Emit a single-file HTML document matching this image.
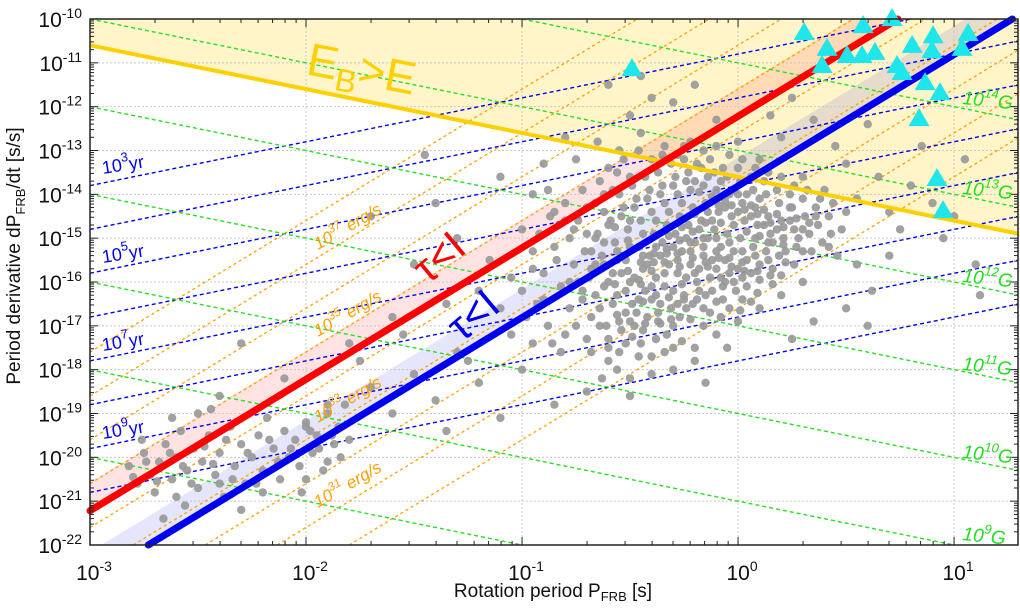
<!DOCTYPE html>
<html><head><meta charset="utf-8"><style>
html,body{margin:0;padding:0;background:#fff;width:1020px;height:610px;overflow:hidden;}
svg{display:block;font-family:"Liberation Sans",sans-serif;}
</style></head><body>
<svg id="chart" width="1020" height="610" viewBox="0 0 1020 610" xmlns="http://www.w3.org/2000/svg">
<defs><clipPath id="plotclip"><rect x="90" y="19" width="928" height="526"/></clipPath></defs>
<g id="bg"></g>
<g id="grid" clip-path="url(#plotclip)"></g>
<g id="dashed" clip-path="url(#plotclip)"></g>
<g id="points" clip-path="url(#plotclip)"></g>
<g id="thick"></g>
<g id="tri"></g>
<g id="axes"></g>
<g id="labels"></g>
</svg>
<script>
// ---- data (log10 values) ----
const xTickExps = [-3, -2, -1, 0, 1];
const yTickExps = [-22, -21, -20, -19, -18, -17, -16, -15, -14, -13, -12, -11, -10];
const bFieldExps = [8, 9, 10, 11, 12, 13, 14];
const ageExps = [3, 4, 5, 6, 7, 8, 9, 10];
const lumExps = [30, 31, 32, 33, 34, 35, 36, 37, 38];
const redLineIntercept = -12.22;   // log Pdot at P=1 s, slope 3
const blueLineIntercept = -13.81;
const yellowLineIntercept = -13.6; // log Pdot at P=1 s, slope -1
const bandWidth = 0.65;
const frbLogP = [-0.491,0.306,0.412,0.389,0.505,0.574,0.634,0.579,0.713,0.806,0.736,0.759,0.903,0.898,0.866,0.935,1.065,1.037,0.838,0.921,0.949];
const frbLogPdot = [-11.12,-10.30,-10.66,-11.05,-10.82,-10.82,-10.75,-10.14,-9.98,-10.59,-11.05,-11.21,-10.37,-10.71,-11.44,-11.67,-10.32,-10.66,-12.26,-13.63,-14.36];
const pulsars = [
[-0.71,-15.3],[-0.69,-15.9],[-0.72,-16.4],[-0.68,-16.8],[-0.66,-15.6],
[-0.65,-14.9],[-0.63,-15.4],[-0.62,-16.1],[-0.64,-16.6],[-0.61,-17.0],
[-0.59,-14.6],[-0.57,-15.1],[-0.58,-15.8],[-0.56,-16.3],[-0.55,-16.9],[-0.60,-17.3],
[-0.53,-14.3],[-0.51,-14.8],[-0.52,-15.5],[-0.50,-16.0],[-0.49,-16.5],[-0.54,-17.1],
[-0.47,-14.1],[-0.45,-14.6],[-0.46,-15.2],[-0.44,-15.7],[-0.43,-16.2],[-0.47,-16.7],[-0.45,-17.4],
[-0.41,-13.9],[-0.40,-14.4],[-0.39,-14.9],[-0.41,-15.4],[-0.38,-15.9],[-0.40,-16.4],[-0.37,-16.9],
[-0.35,-13.8],[-0.34,-14.2],[-0.33,-14.7],[-0.35,-15.1],[-0.32,-15.6],[-0.34,-16.1],[-0.31,-16.6],[-0.33,-17.2],
[-0.29,-13.6],[-0.28,-14.0],[-0.27,-14.5],[-0.29,-14.9],[-0.26,-15.3],[-0.28,-15.8],[-0.25,-16.3],[-0.27,-16.8],
[-0.23,-13.5],[-0.22,-13.9],[-0.21,-14.3],[-0.23,-14.7],[-0.20,-15.1],[-0.22,-15.6],[-0.19,-16.0],[-0.21,-16.5],
[-0.17,-13.4],[-0.16,-13.8],[-0.15,-14.2],[-0.17,-14.6],[-0.14,-15.0],[-0.16,-15.4],[-0.13,-15.9],[-0.15,-16.3],
[-0.11,-13.5],[-0.10,-13.9],[-0.09,-14.4],[-0.11,-14.8],[-0.08,-15.2],[-0.10,-15.7],[-0.07,-16.1],
[-0.05,-13.6],[-0.04,-14.0],[-0.03,-14.5],[-0.05,-14.9],[-0.02,-15.3],[-0.04,-15.8],[-0.01,-16.2],
[0.01,-13.7],[0.02,-14.2],[0.03,-14.6],[0.01,-15.0],[0.04,-15.5],[0.02,-15.9],
[0.07,-13.9],[0.08,-14.3],[0.09,-14.7],[0.07,-15.2],[0.10,-15.6],
[0.13,-14.0],[0.14,-14.5],[0.15,-14.9],[0.13,-15.3],[0.16,-15.7],
[0.19,-14.2],[0.20,-14.6],[0.21,-15.0],[0.19,-15.4],
[0.25,-14.3],[0.26,-14.8],[0.27,-15.2],[0.31,-14.5],[0.33,-14.9],[0.30,-15.3],
[0.37,-14.7],[0.39,-15.1],[0.43,-14.9],
[-0.62,-15.1],[-0.56,-15.5],[-0.50,-15.2],[-0.44,-14.9],[-0.38,-14.6],[-0.32,-14.4],[-0.26,-14.2],[-0.20,-13.7],[-0.14,-13.6],[-0.08,-13.7],[-0.02,-13.9],[0.04,-14.0],[0.10,-14.1],
[-0.60,-16.0],[-0.54,-15.8],[-0.48,-15.9],[-0.42,-15.6],[-0.36,-15.4],[-0.30,-15.2],[-0.24,-15.0],[-0.18,-14.8],[-0.12,-14.6],[-0.06,-14.3],[0.00,-14.4],[0.06,-14.5],[0.12,-14.7],[0.18,-14.8],[0.24,-14.6],
[-0.52,-16.7],[-0.46,-16.4],[-0.40,-16.1],[-0.34,-15.8],[-0.28,-15.5],[-0.22,-15.3],[-0.16,-15.2],[-0.10,-15.0],[-0.04,-15.1],[0.02,-15.3],[0.08,-15.0],[0.14,-15.1],[0.22,-15.3],
[-0.48,-17.0],[-0.42,-16.8],[-0.36,-16.5],[-0.30,-16.2],[-0.24,-15.9],[-0.18,-15.7],[-0.12,-15.5],[-0.06,-15.5],[0.00,-15.7],[0.06,-15.8],
[-0.38,-17.3],[-0.30,-17.0],[-0.24,-16.6],[-0.18,-16.2],[-0.12,-16.2],[-0.06,-16.0],[0.02,-16.4],
[-0.62,-14.4],[-0.55,-14.0],[-0.49,-13.8],[-0.43,-13.6],[-0.37,-13.5],[-0.31,-13.3],[-0.25,-13.2],[-0.19,-13.3],[-0.13,-13.2],[-0.07,-13.4],[0.0,-13.4],[0.06,-13.6],[0.12,-13.7],[0.18,-13.9],[0.24,-14.0],[0.30,-14.1],[0.36,-14.3],[0.42,-14.5],
[-0.66,-15.0],[-0.60,-14.7],[-0.54,-14.5],[-0.48,-14.3],[-0.42,-14.1],[-0.36,-14.0],[-0.30,-13.8],[-0.24,-13.7],[-0.18,-13.95],[-0.12,-14.05],[-0.06,-14.15],[0.0,-14.0],[0.06,-14.25],[0.12,-14.35],[0.18,-14.45],[0.24,-14.3],[0.30,-14.8],[0.36,-14.5],[0.42,-15.2],
[-0.74,-16.0],[-0.68,-15.7],[-0.62,-15.6],[-0.56,-15.3],[-0.50,-14.6],[-0.44,-15.4],[-0.38,-15.2],[-0.32,-14.95],[-0.26,-14.75],[-0.20,-14.45],[-0.14,-14.4],[-0.08,-14.65],[-0.02,-14.7],[0.04,-14.85],[0.10,-14.95],[0.16,-15.1],[0.22,-15.55],[0.28,-15.0],[0.34,-15.3],
[-0.78,-16.6],[-0.72,-16.2],[-0.66,-16.3],[-0.58,-16.5],[-0.52,-16.2],[-0.46,-15.95],[-0.40,-15.75],[-0.34,-15.55],[-0.28,-15.35],[-0.22,-15.1],[-0.16,-15.0],[-0.10,-15.3],[-0.04,-15.45],[0.02,-15.55],[0.08,-15.4],[0.14,-15.5],[0.20,-15.85],[0.26,-15.6],
[-0.80,-17.2],[-0.70,-17.3],[-0.64,-17.0],[-0.56,-16.75],[-0.50,-16.9],[-0.44,-16.45],[-0.38,-16.3],[-0.32,-16.35],[-0.26,-16.05],[-0.20,-15.8],[-0.14,-15.65],[-0.08,-15.9],[-0.02,-16.0],[0.04,-16.1],[0.10,-15.95],[0.16,-16.05],
[-0.68,-17.6],[-0.60,-17.5],[-0.52,-17.4],[-0.44,-17.1],[-0.36,-16.95],[-0.28,-16.5],[-0.22,-16.85],[-0.16,-16.6],[-0.10,-16.45],[-0.04,-16.6],[0.06,-16.45],
[-0.56,-18.0],[-0.46,-17.7],[-0.34,-17.6],[-0.26,-17.35],[-0.16,-17.0],[-0.08,-16.8],
[-0.95,-15.3],[-0.92,-14.9],[-0.9,-15.8],[-0.87,-14.5],[-0.84,-15.5],[-0.82,-16.1],[-0.8,-14.2],[-0.78,-15.0],[-0.76,-15.6],[-0.74,-14.6],[-0.72,-13.9],[-0.7,-14.9],[-0.68,-15.3],[-0.66,-14.2],[-0.64,-13.7],[-0.62,-14.0],[-0.6,-13.4],[-0.58,-13.9],[-0.56,-13.5],[-0.53,-13.2],[-0.5,-13.6],[-1.0,-16.2],[-0.98,-16.8],[-0.93,-16.5],[-0.88,-17.0],[-1.05,-15.9],[-1.1,-16.6],[-0.86,-17.4],
[-0.46,-13.0],[-0.4,-13.2],[-0.34,-12.9],[-0.28,-13.1],[-0.22,-12.8],[-0.16,-13.0],[-0.1,-12.9],[-0.04,-13.1],[0.02,-13.2],[0.08,-13.4],[0.14,-13.5],[0.2,-13.6],[0.26,-13.8],[0.32,-13.9],[0.38,-14.1],[0.44,-14.2],[0.5,-14.4],[0.48,-14.8],[0.46,-15.4],
[-0.57,-14.75],[-0.51,-15.05],[-0.45,-15.55],[-0.39,-15.35],[-0.33,-15.25],[-0.27,-15.05],[-0.21,-14.85],[-0.15,-14.65],[-0.09,-14.25],[-0.03,-14.25],[0.03,-14.35],[0.09,-14.45],[0.15,-14.65],[0.21,-14.75],[0.27,-14.55],[0.33,-14.65],
[-0.57,-16.05],[-0.51,-15.75],[-0.45,-16.05],[-0.39,-15.55],[-0.33,-15.35],[-0.27,-15.65],[-0.21,-15.45],[-0.15,-15.55],[-0.09,-15.45],[-0.03,-15.65],[0.03,-15.75],[0.09,-15.75],[0.15,-15.85],[0.21,-15.15],
[-0.55,-17.6],[-0.49,-17.25],[-0.43,-16.95],[-0.37,-16.7],[-0.31,-16.85],[-0.25,-16.4],[-0.19,-16.4],[-0.13,-16.7],[-0.07,-16.4],[0.01,-16.65],[0.09,-16.25],
[-0.63,-18.2],[-0.5,-18.6],[-0.4,-18.1],[-0.3,-17.5],[-0.2,-17.8],[-0.05,-17.5],
[-0.75,-13.2],[-0.65,-12.8],[-0.55,-13.0],[-0.45,-12.6],[-0.35,-13.1],[-0.25,-12.9],[-0.5,-12.2],[-0.3,-11.9],[-0.1,-12.3],[0.0,-12.8],[0.1,-13.2],[0.2,-12.7],[0.3,-13.6],[0.4,-13.9],[0.5,-13.3],[0.55,-14.1],[0.65,-13.6],[0.7,-14.4],[0.8,-13.8],[0.9,-14.2],[1.0,-14.5],[1.05,-13.2],[0.85,-12.9],[0.6,-12.4],[0.45,-12.9],[0.35,-12.3],[0.25,-11.8],[0.15,-12.2],[-0.2,-11.5],[-0.4,-11.8],[0.75,-14.8],[0.95,-15.0],[1.1,-15.6],[1.12,-16.3],[0.55,-15.6],[0.62,-16.2],[0.5,-16.6],[0.7,-15.4],[-0.8,-12.7],[-0.9,-13.3],[-0.6,-11.5],[-0.45,-11.3],[-0.95,-14.0],[-0.85,-14.4],
[-1.6,-16.8],[-1.5,-15.6],[-1.4,-14.2],[-1.3,-15.0],[-1.2,-16.2],[-1.1,-13.6],[-1.0,-14.8],[-0.95,-15.7],[-0.9,-16.4],[-0.85,-15.2],[-0.8,-14.6],[-0.78,-16.0],[-0.75,-17.0],[-0.82,-17.6],[-1.05,-17.2],[-1.25,-17.8],[-1.15,-15.5],[-1.35,-16.5],[-0.88,-13.9],[-0.7,-14.3],[-0.76,-14.8],[-1.45,-13.1],[-1.7,-14.5],[-1.8,-17.4],
[-0.6,-17.8],[-0.5,-18.2],[-0.4,-17.7],[-0.3,-18.0],[-0.2,-17.5],[-0.1,-17.2],[0.0,-16.9],[0.1,-16.6],[0.2,-16.3],[0.3,-16.0],[0.35,-16.9],[-0.15,-18.3],[-0.7,-18.5],[-0.85,-18.8],[0.25,-17.3],[0.6,-17.0],
[-2.0,-19.3],[-1.9,-18.8],[-1.8,-19.6],[-1.7,-18.4],[-1.6,-19.0],[-1.5,-18.1],[-1.4,-18.7],[-1.3,-17.6],[-1.2,-18.3],[-1.1,-19.1],[-1.0,-18.0],[-0.95,-17.4],[-1.55,-17.2],[-1.75,-17.8],[-1.35,-19.4],[-1.9,-20.1],[-2.1,-18.2],[-2.3,-17.4],[-2.4,-18.6],[-2.5,-19.0],
[-2.82,-20.2],[-2.78,-20.6],[-2.75,-19.9],[-2.72,-20.4],[-2.70,-20.8],[-2.68,-20.1],[-2.65,-19.7],[-2.62,-20.5],[-2.60,-20.0],[-2.58,-19.4],[-2.55,-20.3],[-2.52,-19.8],[-2.50,-20.7],[-2.48,-20.1],[-2.45,-19.5],[-2.42,-20.4],[-2.40,-19.9],[-2.38,-20.9],[-2.35,-19.3],[-2.33,-20.2],[-2.30,-19.7],[-2.28,-20.6],[-2.25,-20.0],[-2.22,-19.5],[-2.20,-20.3],[-2.18,-19.1],[-2.15,-19.8],[-2.12,-20.5],[-2.10,-19.4],[-2.08,-20.0],[-2.05,-19.6],[-2.02,-20.8],[-2.00,-19.2],[-1.97,-19.9],[-1.95,-19.5],[-1.92,-20.3],[-1.90,-19.0],[-1.87,-19.7],[-1.85,-19.3],[-1.82,-18.8],[-2.62,-19.1],[-2.44,-18.9],[-2.56,-21.1],[-2.30,-21.2],[-2.66,-21.4],
[-2.8,-20.45],[-2.74,-20.1],[-2.69,-20.55],[-2.63,-19.9],[-2.57,-20.2],[-2.53,-20.6],[-2.47,-19.75],[-2.43,-20.15],[-2.37,-19.6],[-2.34,-20.5],[-2.27,-19.9],[-2.23,-20.6],[-2.17,-19.6],[-2.13,-20.1],[-2.07,-19.8],[-2.03,-20.2],[-1.98,-19.4],[-1.94,-19.8],[-1.88,-19.5],[-1.84,-20.0],[-2.76,-19.6],[-2.6,-20.9],[-2.4,-20.6],[-2.2,-20.8],[-2.0,-20.5]
];

// ---- scales ----
const X0 = 90, X1 = 1018, Y0 = 19, Y1 = 545;
const LPMIN = -3, LPMAX = 1.296, LDMIN = -22, LDMAX = -10;
function sx(lp){ return X0 + (lp - LPMIN) / (LPMAX - LPMIN) * (X1 - X0); }
function sy(ld){ return Y1 - (ld - LDMIN) / (LDMAX - LDMIN) * (Y1 - Y0); }
const NS = 'http://www.w3.org/2000/svg';
function mk(tag, attrs, parent){ const e = document.createElementNS(NS, tag); for (const k in attrs) e.setAttribute(k, attrs[k]); parent.appendChild(e); return e; }
const g = id => document.getElementById(id);
function linePath(fn, a, b){ return 'M' + sx(a).toFixed(1) + ',' + sy(fn(a)).toFixed(1) + ' L' + sx(b).toFixed(1) + ',' + sy(fn(b)).toFixed(1); }
// straight line (in log space) trimmed to the plot's vertical range
function clippedPath(fn, a, b){
  const s = fn(1) - fn(0), c = fn(0);
  let lo = a, hi = b;
  if (s !== 0) {
    const t1 = (LDMIN - c) / s, t2 = (LDMAX - c) / s;
    lo = Math.max(a, Math.min(t1, t2)); hi = Math.min(b, Math.max(t1, t2));
  }
  if (hi <= lo) return '';
  return linePath(fn, lo, hi);
}

// ---- background fills ----
const bg = g('bg');
const yl = lp => yellowLineIntercept - lp;
let el = mk('polygon', {points: `${X0},${Y0} ${X1},${Y0} ${X1},${sy(yl(LPMAX))} ${X0},${sy(yl(LPMIN))}`, fill: '#fff5c9'}, bg);


[[redLineIntercept, 'rgba(255,60,60,0.14)', 'red-band'], [blueLineIntercept, 'rgba(70,70,230,0.14)', 'blue-band']].forEach(([c, col, nm]) => {
  const lo = lp => 3 * lp + c, hi = lp => 3 * lp + c + bandWidth;
  // trim band ends to plot range
  const a = Math.max(LPMIN, (LDMIN - c - bandWidth) / 3), b = Math.min(LPMAX, (LDMAX - c) / 3);
  const a2 = Math.max(LPMIN, (LDMIN - c) / 3), b2 = Math.min(LPMAX, (LDMAX - c - bandWidth) / 3);
  const pts = [
    [sx(a2), sy(Math.max(LDMIN, lo(a2)))],
    [sx(b), sy(Math.min(LDMAX, lo(b)))],
    [sx(b), Y0],
    [sx(b2), sy(Math.min(LDMAX, hi(b2)))],
    [sx(a), sy(Math.max(LDMIN, hi(a)))],
    [sx(a), Y1]
  ];
  el = mk('polygon', {points: pts.map(p => p[0].toFixed(1) + ',' + p[1].toFixed(1)).join(' '), fill: col}, bg);
  
  
});

// ---- grid ----
const grid = g('grid');
xTickExps.forEach(e => { const l = mk('line', {x1: sx(e), x2: sx(e), y1: Y0, y2: Y1, stroke: '#c8c8c8', 'stroke-width': 1, 'stroke-dasharray': '2,2'}, grid);
  
   });
yTickExps.forEach(e => { const l = mk('line', {x1: X0, x2: X1, y1: sy(e), y2: sy(e), stroke: '#c8c8c8', 'stroke-width': 1, 'stroke-dasharray': '2,2'}, grid);
  
   });

// ---- dashed reference lines ----
const dashed = g('dashed');
lumExps.forEach(k => { const p = mk('path', {d: clippedPath(lp => k + 3 * lp - 46.6, LPMIN, LPMAX), stroke: '#ffa000', 'stroke-width': 1.3, 'stroke-dasharray': '3,3', fill: 'none'}, dashed);
  
   });
ageExps.forEach(k => { const p = mk('path', {d: clippedPath(lp => lp - 7.8 - k, LPMIN, LPMAX), stroke: '#0000ee', 'stroke-width': 1.4, 'stroke-dasharray': '4,3', fill: 'none'}, dashed);
  
   });
bFieldExps.forEach(k => { const p = mk('path', {d: clippedPath(lp => 2 * k - 39 - lp, LPMIN, LPMAX), stroke: '#22e022', 'stroke-width': 1.4, 'stroke-dasharray': '4,3', fill: 'none'}, dashed);
  
   });

// ---- pulsars ----
const pts = g('points');
pulsars.forEach(([lp, ld]) => { const c = mk('circle', {cx: sx(lp).toFixed(1), cy: sy(ld).toFixed(1), r: 4.2, fill: '#999999', 'fill-opacity': 0.92}, pts);
  
   });

// ---- thick lines ----
const thick = g('thick');
el = mk('path', {d: linePath(yl, LPMIN, LPMAX), stroke: '#ffd000', 'stroke-width': 4, fill: 'none'}, thick);


const redEnd = (LDMAX - redLineIntercept) / 3;
el = mk('path', {d: linePath(lp => 3 * lp + redLineIntercept, LPMIN, redEnd), stroke: '#ff0000', 'stroke-width': 7, 'stroke-linecap': 'round', fill: 'none'}, thick);


const blueStart = (LDMIN - blueLineIntercept) / 3, blueEnd = Math.min(LPMAX, (LDMAX - blueLineIntercept) / 3);
el = mk('path', {d: linePath(lp => 3 * lp + blueLineIntercept, blueStart, blueEnd), stroke: '#0000ee', 'stroke-width': 7, 'stroke-linecap': 'round', fill: 'none'}, thick);



// ---- FRB triangles ----
const tri = g('tri');
frbLogP.forEach((lp, i) => { const x = sx(lp), y = sy(frbLogPdot[i]);
  const t = mk('polygon', {points: `${x},${y - 10} ${x + 10.5},${y + 8} ${x - 10.5},${y + 8}`, fill: '#1ee6ea'}, tri);
  
   });

// ---- axes ----
const ax = g('axes');
el = mk('rect', {x: X0, y: Y0, width: X1 - X0, height: Y1 - Y0, fill: 'none', stroke: '#222', 'stroke-width': 1.5}, ax);


for (let d = -3; d <= 1; d++) for (let m = 1; m <= 9; m++) {
  const lp = d + Math.log10(m); if (lp > LPMAX) continue;
  const len = m === 1 ? 8 : 4;
  mk('line', {x1: sx(lp), x2: sx(lp), y1: Y1, y2: Y1 - len, stroke: '#222'}, ax);
  mk('line', {x1: sx(lp), x2: sx(lp), y1: Y0, y2: Y0 + len, stroke: '#222'}, ax);
}
for (let d = -22; d < -10; d++) for (let m = 1; m <= 9; m++) {
  const ld = d + Math.log10(m); const len = m === 1 ? 8 : 4;
  mk('line', {x1: X0, x2: X0 + len, y1: sy(ld), y2: sy(ld), stroke: '#222'}, ax);
  mk('line', {x1: X1, x2: X1 - len, y1: sy(ld), y2: sy(ld), stroke: '#222'}, ax);
}
xTickExps.forEach(e => { const t = mk('text', {x: sx(e) + 4, y: 580, 'text-anchor': 'middle', 'font-size': 21, fill: '#111'}, ax);
  
  
  t.innerHTML = `10<tspan dy="-9" font-size="14">${e}</tspan>`; });
yTickExps.forEach(e => { const t = mk('text', {x: 82, y: sy(e) + 8, 'text-anchor': 'end', 'font-size': 21, fill: '#111'}, ax);
  
  
  t.innerHTML = `10<tspan dy="-9" font-size="14">${e}</tspan>`; });

const L = document.getElementById('labels');
L.innerHTML = `
<text x="553" y="597" text-anchor="middle" font-size="19" fill="#111">Rotation period  P<tspan dy="4" font-size="13">FRB</tspan><tspan dy="-4"> [s]</tspan></text>
<text transform="translate(20,256) rotate(-90)" text-anchor="middle" font-size="19" fill="#111">Period derivative  dP<tspan dy="5" font-size="13">FRB</tspan><tspan dy="-5">/dt [s/s]</tspan></text>
<text transform="translate(305,74) rotate(11)" font-size="46" fill="#ffd000">E<tspan dy="10" font-size="32">B</tspan><tspan dy="-10">&gt;E</tspan></text>
<text transform="translate(428,285) rotate(-40)" font-size="42" fill="#ff0000">τ&lt;I</text>
<text transform="translate(462,343) rotate(-40)" font-size="42" fill="#0000ee">τ&lt;I</text>
<g font-size="17" fill="#ffa000" font-style="italic">
<text transform="translate(318,250) rotate(-30)">10<tspan dy="-8" font-size="12">37</tspan><tspan dy="8"> erg/s</tspan></text>
<text transform="translate(318,337) rotate(-30)">10<tspan dy="-8" font-size="12">35</tspan><tspan dy="8"> erg/s</tspan></text>
<text transform="translate(318,423) rotate(-30)">10<tspan dy="-8" font-size="12">33</tspan><tspan dy="8"> erg/s</tspan></text>
<text transform="translate(318,508) rotate(-30)">10<tspan dy="-8" font-size="12">31</tspan><tspan dy="8"> erg/s</tspan></text>
</g>
<g font-size="18" fill="#0000ee">
<text transform="translate(103,174) rotate(-9)">10<tspan dy="-9" font-size="13">3</tspan><tspan dy="9">yr</tspan></text>
<text transform="translate(103,263) rotate(-9)">10<tspan dy="-9" font-size="13">5</tspan><tspan dy="9">yr</tspan></text>
<text transform="translate(103,351) rotate(-9)">10<tspan dy="-9" font-size="13">7</tspan><tspan dy="9">yr</tspan></text>
<text transform="translate(103,439) rotate(-9)">10<tspan dy="-9" font-size="13">9</tspan><tspan dy="9">yr</tspan></text>
</g>
<g font-size="19" fill="#22dd22" font-style="italic">
<text transform="translate(962,104) rotate(6)">10<tspan dy="-9" font-size="13">14</tspan><tspan dy="9">G</tspan></text>
<text transform="translate(962,194) rotate(6)">10<tspan dy="-9" font-size="13">13</tspan><tspan dy="9">G</tspan></text>
<text transform="translate(962,282) rotate(6)">10<tspan dy="-9" font-size="13">12</tspan><tspan dy="9">G</tspan></text>
<text transform="translate(962,370) rotate(6)">10<tspan dy="-9" font-size="13">11</tspan><tspan dy="9">G</tspan></text>
<text transform="translate(962,458) rotate(6)">10<tspan dy="-9" font-size="13">10</tspan><tspan dy="9">G</tspan></text>
<text transform="translate(962,540) rotate(6)">10<tspan dy="-9" font-size="13">9</tspan><tspan dy="9">G</tspan></text>
</g>`;
</script>
</body></html>
